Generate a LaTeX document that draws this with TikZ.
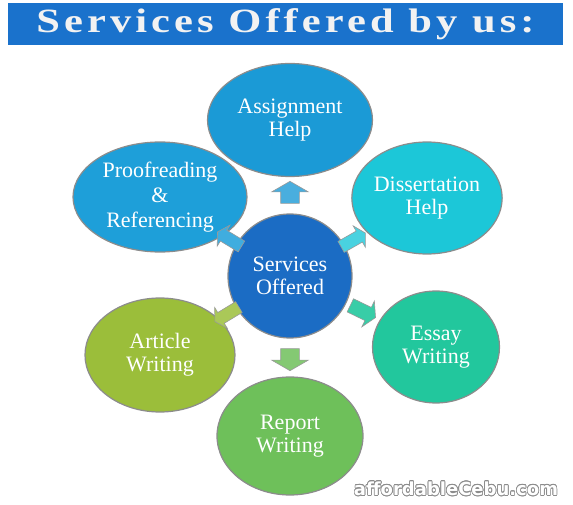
\documentclass[tikz,border=0pt]{standalone}
\usepackage{fontspec}
\setmainfont{Liberation Serif}
\newfontfamily\titlefont[LetterSpace=12,FakeStretch=1.25]{Liberation Serif}
\newfontfamily\markfont{DejaVu Sans}
\usepackage{contour}
\contourlength{0.7pt}
\usetikzlibrary{shapes.geometric,shapes.arrows,calc}
\definecolor{bannerblue}{RGB}{26,114,204}
\definecolor{hubblue}{RGB}{27,108,196}
\definecolor{asgblue}{RGB}{27,154,214}
\definecolor{prfblue}{RGB}{30,159,217}
\definecolor{discyan}{RGB}{28,199,216}
\definecolor{essteal}{RGB}{34,199,157}
\definecolor{repgreen}{RGB}{110,192,90}
\definecolor{artlime}{RGB}{155,190,58}

\begin{document}
\begin{tikzpicture}[x=1pt,y=1pt,
  service/.style={ellipse, draw=black!45, line width=1.2pt, text=white, align=center,
    inner sep=0pt, font=\fontsize{22}{23}\selectfont},
  hub/.style={service, circle, minimum size=124pt},
  link/.style={single arrow, draw=black!40, line width=0.6pt, inner xsep=0pt,
    single arrow tip angle=120, single arrow head indent=0pt}]
\useasboundingbox (0,0) rectangle (573,504);
\node[fill=bannerblue, minimum width=555pt, minimum height=42pt, inner sep=0pt,
  text=white!95!black, font=\titlefont\bfseries\fontsize{34}{36}\selectfont]
  (banner) at (285.5,480) {Services Offered by us:};
\node[hub, fill=hubblue] (srv) at (290,228) {Services\\Offered};
\node[service, fill=asgblue, minimum width=165pt, minimum height=113pt] (asg) at (290,384) {Assignment\\Help};
\node[service, fill=discyan, minimum width=150pt, minimum height=112pt] (dis) at (427,306) {Dissertation\\Help};
\node[service, fill=essteal, minimum width=127pt, minimum height=112pt] (ess) at (436,157) {Essay\\Writing};
\node[service, fill=repgreen, minimum width=146pt, minimum height=118pt] (rep) at (290,68) {Report\\Writing};
\node[service, fill=artlime, minimum width=150pt, minimum height=114pt] (art) at (160,149) {Article\\Writing};
\node[service, fill=prfblue, minimum width=174pt, minimum height=110pt,
  font=\fontsize{22}{25}\selectfont] (prf) at (160,307) {Proofreading\\\&\\Referencing};
\foreach \tgt/\col/\ln/\sh/\ext/\d in {asg/asgblue!80!white/22/9/9/81, dis/discyan!80!white/28/6/6/71,
    ess/essteal!90!white/28/7/7/79, rep/repgreen!85!white/22/9/9/81,
    art/artlime!85!white/28/6/6/72, prf/prfblue!85!white/28/6/6/69}
  \path let \p1=($(\tgt)-(srv)$), \n1={atan2(\y1,\x1)} in
    node[link, fill=\col, minimum height=\ln pt, inner ysep=\sh pt,
      single arrow head extend=\ext pt, rotate=\n1] at ($(srv)!\d pt!(\tgt)$) {};
\node[font=\markfont\bfseries\fontsize{18}{18}\selectfont] (mark) at (456,15)
  {\contour{black!45}{\textcolor{white}{affordableCebu.com}}};
\end{tikzpicture}
\end{document}
